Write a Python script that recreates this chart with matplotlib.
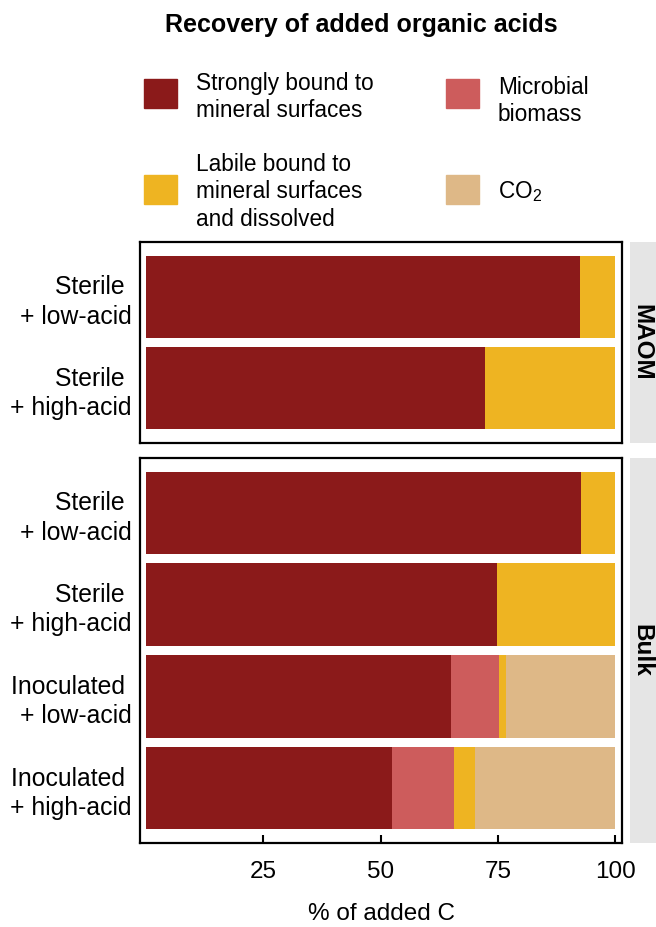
import matplotlib
matplotlib.use("Agg")
import matplotlib.pyplot as plt
from matplotlib.patches import Rectangle
import numpy as np

plt.rcParams['font.family'] = ['Liberation Sans', 'DejaVu Sans']
plt.rcParams['mathtext.fontset'] = 'custom'
plt.rcParams['mathtext.rm'] = 'Liberation Sans'

# ---- data ----
facets = ["MAOM", "Bulk"]
maom_labels = ["Sterile \n+ low-acid", "Sterile \n+ high-acid"]
bulk_labels = ["Sterile \n+ low-acid", "Sterile \n+ high-acid",
               "Inoculated \n+ low-acid", "Inoculated \n+ high-acid"]
components = ["Strongly bound to\nmineral surfaces", "Microbial\nbiomass",
              "Labile bound to\nmineral surfaces\nand dissolved", r"CO$_\mathregular{2}$"]
colors = ["#8B1A1A", "#CD5C5C", "#EEB422", "#DEB887"]

maom_strong = [92.4, 72.2]
maom_microbial = [0.0, 0.0]
maom_labile = [7.6, 27.8]
maom_co2 = [0.0, 0.0]

bulk_strong = [92.6, 74.8, 65.1, 52.4]
bulk_microbial = [0.0, 0.0, 10.2, 13.2]
bulk_labile = [7.4, 25.2, 1.4, 4.5]
bulk_co2 = [0.0, 0.0, 23.3, 29.9]

xticks = [25, 50, 75, 100]

W, H = 656, 927
fig = plt.figure(figsize=(W / 100, H / 100), dpi=100)


def fx(x):
    return x / W


def fy(y):
    return 1 - y / H


left, right = 140, 622
panels = [
    ("MAOM", 242, 443, maom_labels, [maom_strong, maom_microbial, maom_labile, maom_co2]),
    ("Bulk", 458, 843, bulk_labels, [bulk_strong, bulk_microbial, bulk_labile, bulk_co2]),
]

axes = []
for name, top, bot, labels, series in panels:
    ax = fig.add_axes([fx(left), fy(bot), fx(right - left), fy(top) - fy(bot)])
    n = len(labels)
    ypos = np.arange(n)
    cum = np.zeros(n)
    for vals, col in zip(series, colors):
        vals = np.array(vals)
        ax.barh(ypos, vals, left=cum, height=0.9, color=col, edgecolor='none')
        cum += vals
    ax.set_ylim(n - 0.4, -0.6)
    ax.set_xlim(-1.2, 101.4)
    ax.set_yticks(ypos)
    ax.set_yticklabels(labels, fontsize=17.8, linespacing=1.28, ha='right',
                       multialignment='right')
    ax.tick_params(axis='y', length=0, pad=6)
    for s in ax.spines.values():
        s.set_linewidth(1.6)
        s.set_color('black')
    ax.set_facecolor('white')
    # strip
    sax = fig.add_axes([fx(630), fy(bot), fx(W - 630), fy(top) - fy(bot)])
    sax.set_facecolor('#E5E5E5')
    sax.set_xticks([])
    sax.set_yticks([])
    for s in sax.spines.values():
        s.set_visible(False)
    sax.text(0.45, 0.5, name, rotation=-90, ha='center', va='center',
             fontsize=17.5, fontweight='bold', transform=sax.transAxes)
    axes.append(ax)

axes[0].set_xticks([])
axes[1].set_xticks(xticks)
axes[1].set_xticklabels([str(t) for t in xticks], fontsize=17.5)
axes[1].tick_params(axis='x', direction='in', length=5.5, width=1.5, pad=13)

fig.text(fx(381), fy(914), "% of added C", ha='center', va='center', fontsize=17.5)
fig.text(fx(361), fy(25), "Recovery of added organic acids", ha='center', va='center',
         fontsize=18, fontweight='bold')

# legend
key_pos = [(144, 79), (446, 79), (144, 175), (446, 175)]
text_pos = [(196, 97), (498, 101), (196, 192), (498, 192)]
for (kx, ky), (tx, ty), lab, col in zip(key_pos, text_pos, components, colors):
    fig.patches.append(Rectangle((fx(kx), fy(ky + 29)), fx(33), fy(0) - fy(29),
                                 transform=fig.transFigure, color=col))
    fig.text(fx(tx), fy(ty), lab, ha='left', va='center', fontsize=16.3, linespacing=1.27)

fig.savefig("out.png", dpi=100)
